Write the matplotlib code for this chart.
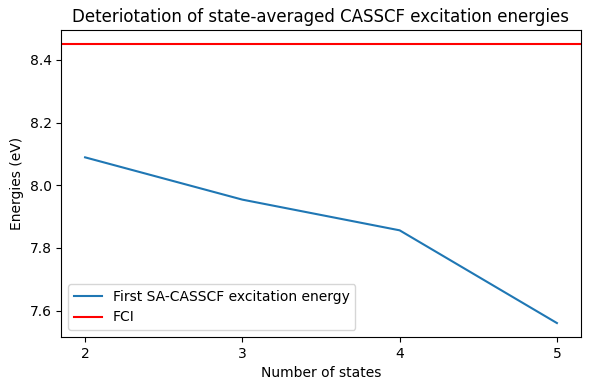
import matplotlib
matplotlib.use("Agg")
import matplotlib.pyplot as plt

n_states = [2, 3, 4, 5]
sa_casscf = [8.089, 7.954, 7.856, 7.560]
fci_energy = 8.451

fig, ax = plt.subplots(figsize=(5.9, 3.9), dpi=100)
ax.plot(n_states, sa_casscf, label="First SA-CASSCF excitation energy")
ax.axhline(fci_energy, color="red", label="FCI")
ax.set_xticks(n_states)
ax.set_xlabel("Number of states")
ax.set_ylabel("Energies (eV)")
ax.set_title("Deteriotation of state-averaged CASSCF excitation energies")
ax.legend(loc="lower left")
fig.subplots_adjust(left=0.1042, right=0.9839, top=0.9231, bottom=0.1359)
fig.savefig("out.png")
